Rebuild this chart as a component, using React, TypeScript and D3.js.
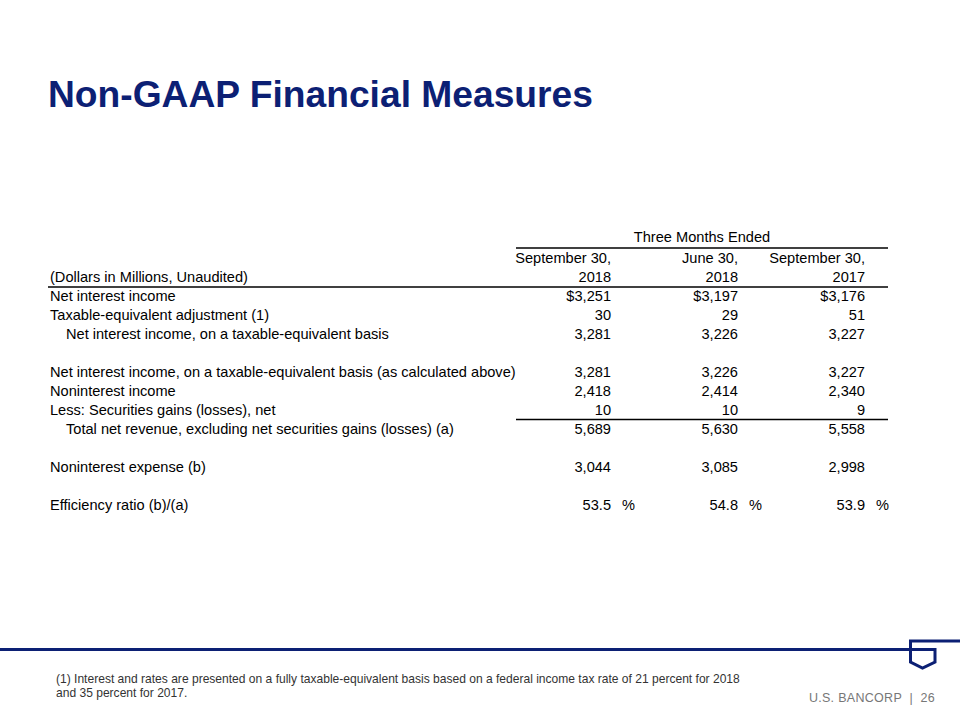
import React from "react";
import * as d3 from "d3";

const title = "Non-GAAP Financial Measures";
const columnHeaders1 = ["September 30,", "June 30,", "September 30,"];
const columnHeaders2 = ["2018", "2018", "2017"];
const groupHeader = "Three Months Ended";
const unitsLabel = "(Dollars in Millions, Unaudited)";

const rowLabels = [
  "Net interest income",
  "Taxable-equivalent adjustment (1)",
  "Net interest income, on a taxable-equivalent basis",
  "",
  "Net interest income, on a taxable-equivalent basis (as calculated above)",
  "Noninterest income",
  "Less: Securities gains (losses), net",
  "Total net revenue, excluding net securities gains (losses) (a)",
  "",
  "Noninterest expense (b)",
  "",
  "Efficiency ratio (b)/(a)",
];
const rowIndent = [false, false, true, false, false, false, false, true, false, false, false, false];
const rowValues: (string[] | null)[] = [
  ["$3,251", "$3,197", "$3,176"],
  ["30", "29", "51"],
  ["3,281", "3,226", "3,227"],
  null,
  ["3,281", "3,226", "3,227"],
  ["2,418", "2,414", "2,340"],
  ["10", "10", "9"],
  ["5,689", "5,630", "5,558"],
  null,
  ["3,044", "3,085", "2,998"],
  null,
  ["53.5", "54.8", "53.9"],
];
const rowIsPercent = [false, false, false, false, false, false, false, false, false, false, false, true];
const footnoteLines = [
  "(1) Interest and rates are presented on a fully taxable-equivalent basis based on a federal income tax rate of 21 percent for 2018",
  "and 35 percent for 2017.",
];
const brand = "U.S. BANCORP  |  26";

const NAVY = "#0c2074";
const FONT = "'Liberation Sans', Arial, Helvetica, sans-serif";

export default function App() {
  const W = 960;
  const H = 720;
  const y = d3.scaleLinear().domain([0, 11]).range([296, 505]);
  const x = d3.scaleLinear().domain([0, 2]).range([611, 865]);
  const labelX = 50;
  const indentX = 66;
  const FS = 14.6;
  const base = 5.2; // center -> baseline offset

  return (
    <svg
      width={W}
      height={H}
      style={{ position: "absolute", left: 0, top: 0, background: "#fff" }}
      fontFamily={FONT}
    >
      <rect width={W} height={H} fill="#fff" />
      <text x={48} y={107} fontSize={37.2} fontWeight="bold" fill={NAVY}>
        {title}
      </text>

      {/* header */}
      <text x={702} y={237 + base} fontSize={FS} textAnchor="middle" fill="#000">
        {groupHeader}
      </text>
      <line x1={516} x2={888} y1={248} y2={248} stroke="#000" strokeWidth={1.5} />
      {columnHeaders1.map((h, i) => (
        <text key={"h1" + i} x={x(i)} y={258 + base} fontSize={FS} textAnchor="end" fill="#000">
          {h}
        </text>
      ))}
      {columnHeaders2.map((h, i) => (
        <text key={"h2" + i} x={x(i)} y={277 + base} fontSize={FS} textAnchor="end" fill="#000">
          {h}
        </text>
      ))}
      <text x={labelX} y={277 + base} fontSize={FS} fill="#000">
        {unitsLabel}
      </text>
      <line x1={48} x2={888} y1={287} y2={287} stroke="#000" strokeWidth={1.5} />

      {/* rows */}
      {rowLabels.map((lab, r) =>
        lab ? (
          <text
            key={"l" + r}
            x={rowIndent[r] ? indentX : labelX}
            y={y(r) + base}
            fontSize={FS}
            fill="#000"
          >
            {lab}
          </text>
        ) : null
      )}
      {rowValues.map((vals, r) =>
        vals
          ? vals.map((v, i) => (
              <g key={"v" + r + "-" + i}>
                <text x={x(i)} y={y(r) + base} fontSize={FS} textAnchor="end" fill="#000">
                  {v}
                </text>
                {rowIsPercent[r] ? (
                  <text x={x(i) + 11} y={y(r) + base} fontSize={FS} fill="#000">
                    %
                  </text>
                ) : null}
              </g>
            ))
          : null
      )}
      <line
        x1={516}
        x2={888}
        y1={(y(6) + y(7)) / 2}
        y2={(y(6) + y(7)) / 2}
        stroke="#000"
        strokeWidth={1.5}
      />

      {/* footer */}
      <path
        d="M0,649.5 H935 V662 L922.5,668 L910.5,662 V641 H960"
        fill="none"
        stroke={NAVY}
        strokeWidth={3}
      />
      {footnoteLines.map((t, i) => (
        <text key={"f" + i} x={56} y={683 + i * 13.5} fontSize={12.05} fill="#333">
          {t}
        </text>
      ))}
      <text
        x={935}
        y={702}
        fontSize={12.5}
        textAnchor="end"
        fill="#777"
        letterSpacing={0.3}
        style={{ whiteSpace: "pre" }}
      >
        {brand}
      </text>
    </svg>
  );
}
